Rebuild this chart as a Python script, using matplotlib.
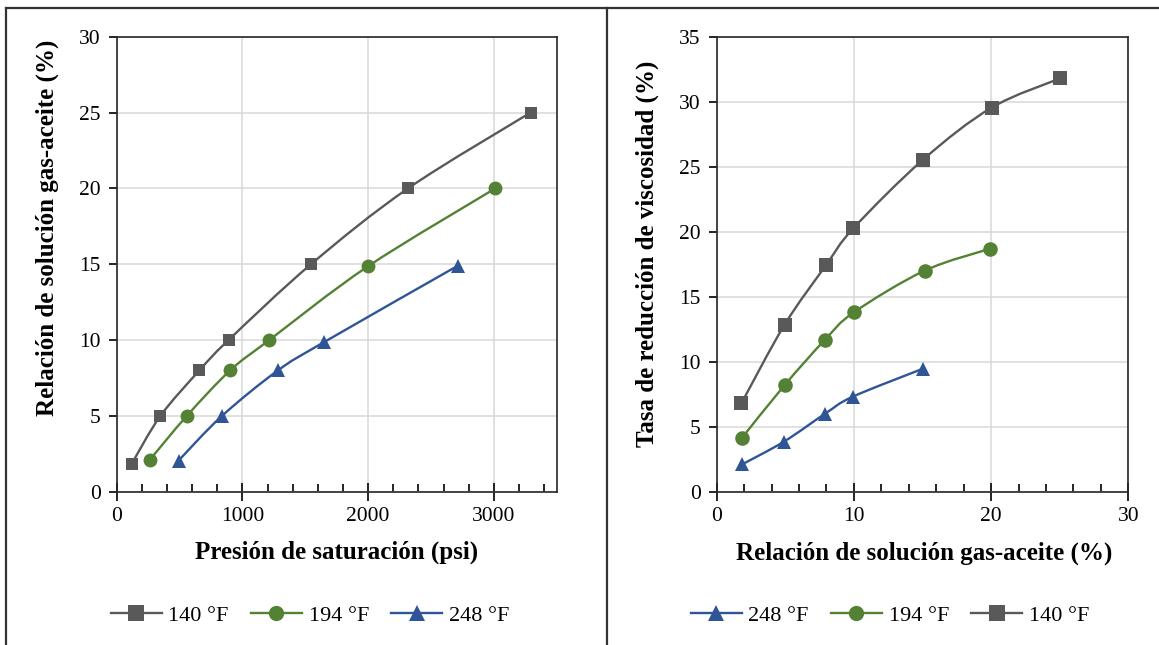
import matplotlib
matplotlib.use("Agg")
import matplotlib.pyplot as plt
import numpy as np
from matplotlib.path import Path
from matplotlib.patches import PathPatch
from matplotlib.lines import Line2D
from matplotlib.ticker import MultipleLocator

plt.rcParams["font.family"] = ["Liberation Serif", "DejaVu Serif"]

# left panel: saturation pressure (psi) vs gas-oil ratio (%)
psat_140 = [120, 348, 658, 890, 1546, 2318, 3293]
rs_140 = [1.85, 5.0, 8.0, 10.0, 15.0, 20.0, 25.0]
psat_194 = [263, 558, 903, 1214, 1997, 3012]
rs_194 = [2.1, 5.0, 8.0, 10.0, 14.85, 20.0]
psat_248 = [492, 838, 1283, 1647, 2714]
rs_248 = [2.05, 5.0, 8.0, 9.85, 14.9]

# right panel: gas-oil ratio (%) vs viscosity reduction (%)
gor_140 = [1.8, 4.95, 7.95, 9.95, 15.05, 20.05, 25.05]
visc_140 = [6.8, 12.85, 17.4, 20.25, 25.55, 29.55, 31.8]
gor_194 = [1.85, 4.95, 7.9, 10.0, 15.15, 19.95]
visc_194 = [4.15, 8.2, 11.7, 13.8, 17.0, 18.7]
gor_248 = [1.85, 4.9, 7.9, 9.9, 15.0]
visc_248 = [2.1, 3.85, 6.0, 7.3, 9.45]

labels = ["140 °F", "194 °F", "248 °F"]
colors = {"140 °F": "#595959", "194 °F": "#548235", "248 °F": "#2F5597"}
markers = {"140 °F": "s", "194 °F": "o", "248 °F": "^"}


def smooth_path(ax, x, y):
    # cubic bezier through the points, built in display space
    pts = ax.transData.transform(np.column_stack([x, y]))
    n = len(pts)
    verts = [pts[0]]
    codes = [Path.MOVETO]
    for i in range(n - 1):
        p0 = pts[i - 1] if i > 0 else pts[i]
        p1, p2 = pts[i], pts[i + 1]
        p3 = pts[i + 2] if i + 2 < n else pts[i + 1]
        verts += [p1 + (p2 - p0) / 6, p2 - (p3 - p1) / 6, p2]
        codes += [Path.CURVE4] * 3
    return Path(ax.transData.inverted().transform(np.array(verts)), codes)


def draw_series(ax, x, y, name, ms):
    c = colors[name]
    ax.add_patch(PathPatch(smooth_path(ax, x, y), fill=False, edgecolor=c,
                           lw=1.7, zorder=3, capstyle="round"))
    ax.plot(x, y, linestyle="none", marker=markers[name], color=c,
            markersize=ms, markeredgewidth=0, zorder=4)


def style_axes(ax, xmax, xmajor, xminor, ymax):
    ax.set_xlim(0, xmax)
    ax.set_ylim(0, ymax)
    ax.xaxis.set_major_locator(MultipleLocator(xmajor))
    ax.xaxis.set_minor_locator(MultipleLocator(xminor))
    ax.yaxis.set_major_locator(MultipleLocator(5))
    ax.grid(True, which="major", color="#D9D9D9", lw=1.1, zorder=0)
    ax.set_axisbelow(True)
    ax.tick_params(axis="x", which="major", direction="inout", length=12.5,
                   width=1.2, pad=5, labelsize=15.5)
    ax.tick_params(axis="x", which="minor", direction="in", length=5.5,
                   width=1.2)
    ax.tick_params(axis="y", which="major", direction="out", length=5.5,
                   width=1.2, pad=6, labelsize=15.5)
    for s in ax.spines.values():
        s.set_linewidth(1.2)
        s.set_color("#262626")


fig = plt.figure(figsize=(11.59, 6.45), dpi=100)

ax1 = fig.add_axes([0.1007, 0.2377, 0.3796, 0.7054])
style_axes(ax1, 3500, 1000, 200, 30)
draw_series(ax1, psat_140, rs_140, "140 °F", 9)
draw_series(ax1, psat_194, rs_194, "194 °F", 10)
draw_series(ax1, psat_248, rs_248, "248 °F", 10)

ax2 = fig.add_axes([0.6184, 0.2377, 0.3551, 0.7054])
style_axes(ax2, 30, 10, 2, 35)
draw_series(ax2, gor_248, visc_248, "248 °F", 10.5)
draw_series(ax2, gor_194, visc_194, "194 °F", 10.5)
draw_series(ax2, gor_140, visc_140, "140 °F", 10)

# axis titles
title_kw = dict(fontsize=18, fontweight="bold", ha="center", va="center")
fig.text(47.5 / 1159, 1 - 228 / 645, "Relación de solución gas-aceite (%)",
         rotation=90, **title_kw)
fig.text(336.7 / 1159, 1 - 552 / 645, "Presión de saturación (psi)", **title_kw)
fig.text(647.6 / 1159, 1 - 254 / 645, "Tasa de reducción de viscosidad (%)",
         rotation=90, **title_kw)
fig.text(924 / 1159, 1 - 553 / 645, "Relación de solución gas-aceite (%)",
         **title_kw)


def legend_handles(order):
    return [Line2D([], [], color=colors[n], marker=markers[n], lw=1.7,
                   markersize=11, markeredgewidth=0, label=n) for n in order]


for order, cx in [(labels, 310), (labels[::-1], 890)]:
    fig.legend(handles=legend_handles(order), loc="center",
               bbox_to_anchor=(cx / 1159, 1 - 616 / 645), ncol=3,
               frameon=False, fontsize=16, handlelength=2.3,
               handletextpad=0.3, columnspacing=1.0)

# panel frame
frame = dict(color="#333333", lw=1.6, transform=fig.transFigure)
fig.add_artist(Line2D([6 / 1159, 1], [1 - 8 / 645] * 2, **frame))
fig.add_artist(Line2D([6 / 1159] * 2, [0, 1 - 8 / 645], **frame))
fig.add_artist(Line2D([607 / 1159] * 2, [0, 1 - 8 / 645], **frame))

fig.savefig("out.png", dpi=100, facecolor="white")
